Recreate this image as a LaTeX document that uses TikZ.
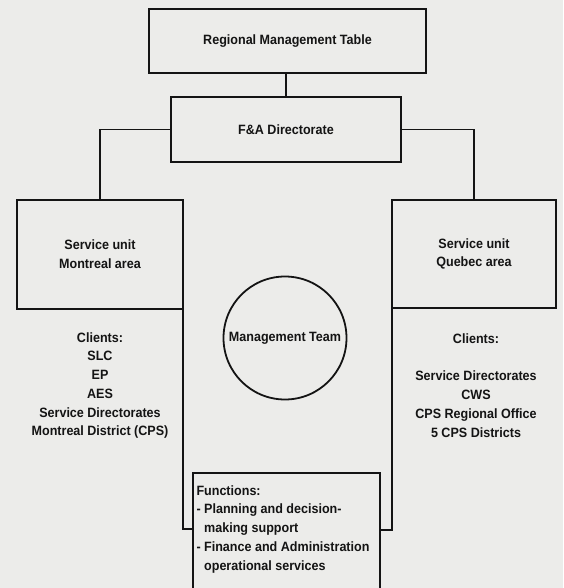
\documentclass[tikz,border=0pt]{standalone}
\usepackage{fontspec}
\setmainfont{Liberation Sans}[FakeStretch=0.93]
\usetikzlibrary{calc}
\definecolor{paper}{RGB}{236,236,234}
\definecolor{ink}{RGB}{20,20,20}
\tikzset{
  lbl/.style={font=\fontsize{13.5}{18.7}\selectfont\bfseries, text=ink, inner sep=0pt, outer sep=0pt},
  box/.style={lbl, draw=ink, line width=1.8pt, rectangle, align=center},
  wire/.style={draw=ink, line width=1.3pt},
  ring/.style={lbl, draw=ink, line width=1.8pt, circle, minimum size=123pt},
}
\begin{document}
\begin{tikzpicture}[x=1pt, y=-1pt]
  % page
  \fill[paper] (0,0) rectangle (563,588);
  \useasboundingbox (0,0) rectangle (563,588);

  % boxes
  \node[box, minimum width=277pt, minimum height=64pt] (rmt) at (287.5,41) {Regional Management Table};
  \node[box, minimum width=230pt, minimum height=65pt] (fa) at (286,129.5) {F\&A Directorate};
  \node[box, minimum width=166pt, minimum height=109pt] (mtl) at (100,254.5) {Service unit\\Montreal area};
  \node[box, minimum width=164pt, minimum height=108pt] (qc) at (474,254) {Service unit\\Quebec area};

  % management circle
  \node[ring] (team) at (285,338) {Management Team};

  % functions box, open at the foot of the page
  \node[rectangle, inner sep=0pt, outer sep=0pt, minimum width=187pt, minimum height=120pt, anchor=north west] (fn) at (193,473) {};
  \draw[ink, line width=1.8pt] (fn.south west) -- (fn.north west) -- (fn.north east) -- (fn.south east);
  \node[lbl, align=left, anchor=north west] (fntext) at ($(fn.north west)+(3.5,12.5)$)
    {Functions:\\- Planning and decision-\\\phantom{- }making support\\- Finance and Administration\\\phantom{- }operational services};

  % client lists
  \node[lbl, align=center] (mtlclients) at (100,385.5)
    {Clients:\\SLC\\EP\\AES\\Service Directorates\\Montreal District (CPS)};
  \node[lbl, align=center] (qcclients) at (476,385.5)
    {Clients:\\[18.7pt]Service Directorates\\CWS\\CPS Regional Office\\5 CPS Districts};

  % connectors
  \draw[wire] (fa.north |- rmt.south) -- (fa.north);
  \draw[wire] (fa.west) -| (mtl.north);
  \draw[wire] (fa.east) -| (qc.north);
  \draw[wire] (mtl.south east) |- ($(fn.north west)+(0,56)$);
  \draw[wire] (qc.south west) |- ($(fn.north east)+(0,57)$);
\end{tikzpicture}
\end{document}
